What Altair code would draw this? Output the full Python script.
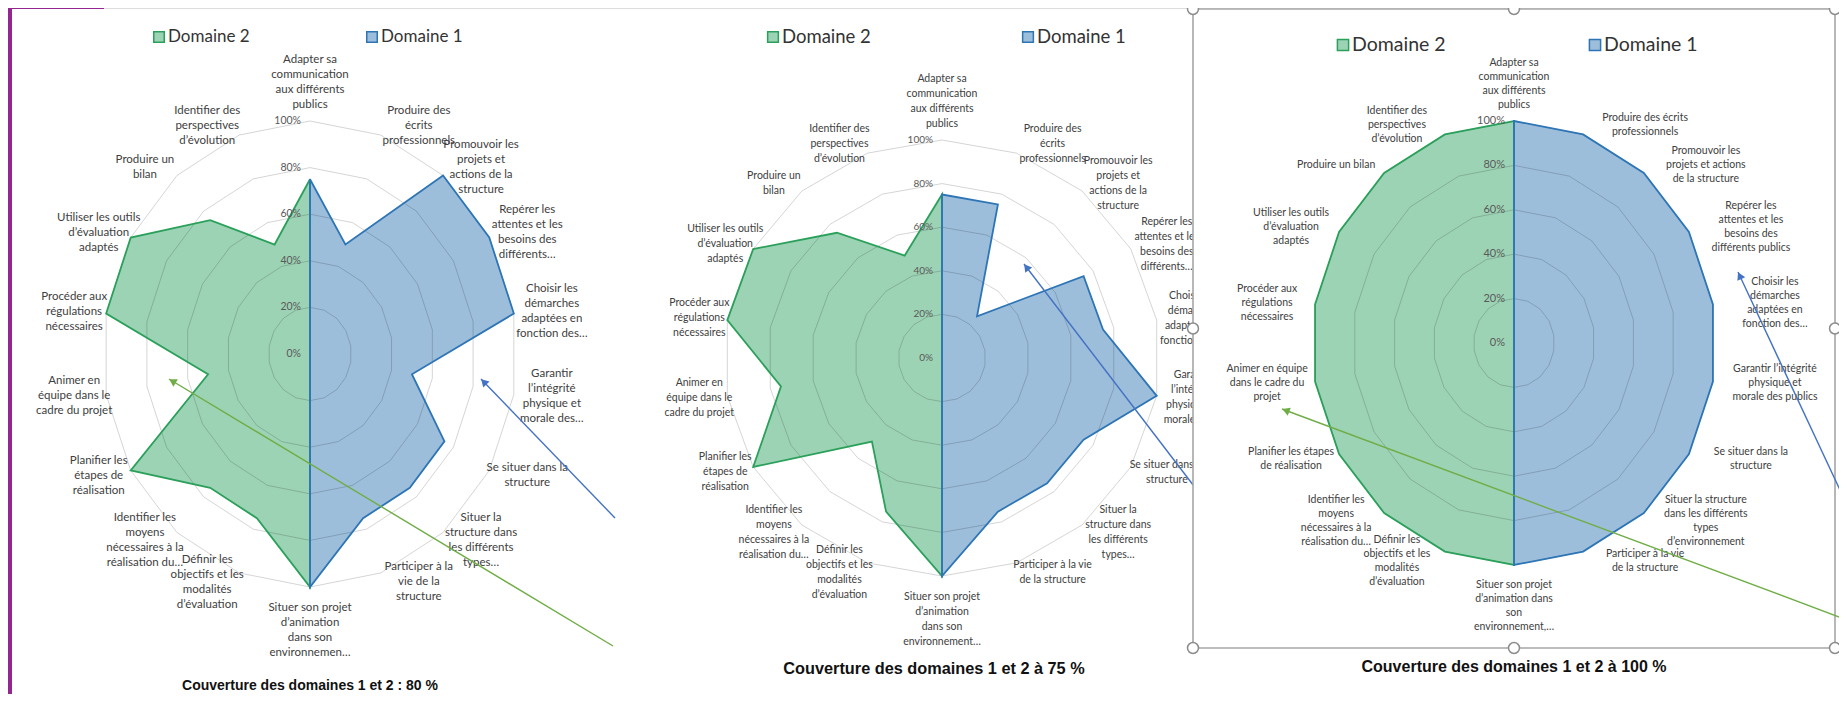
import math
import altair as alt
import pandas as pd

# ------------------------------------------------------------------ data
TITLES = [
    "Couverture des domaines 1 et 2 : 80 %",
    "Couverture des domaines 1 et 2 à 75 %",
    "Couverture des domaines 1 et 2 à 100 %",
]
SERIES = ["Domaine 2", "Domaine 1"]
RING_TICKS = [0, 20, 40, 60, 80, 100]
TICK_TEXT = ["0%", "20%", "40%", "60%", "80%", "100%"]

LABELS_1 = [
    ["Adapter sa", "communication", "aux différents", "publics"],
    ["Produire des", "écrits", "professionnels"],
    ["Promouvoir les", "projets et", "actions de la", "structure"],
    ["Repérer les", "attentes et les", "besoins des", "différents…"],
    ["Choisir les", "démarches", "adaptées en", "fonction des…"],
    ["Garantir", "l’intégrité", "physique et", "morale des…"],
    ["Se situer dans la", "structure"],
    ["Situer la", "structure dans", "les différents", "types…"],
    ["Participer à la", "vie de la", "structure"],
    ["Situer son projet", "d’animation", "dans son", "environnemen…"],
    ["Définir les", "objectifs et les", "modalités", "d’évaluation"],
    ["Identifier les", "moyens", "nécessaires à la", "réalisation du…"],
    ["Planifier les", "étapes de", "réalisation"],
    ["Animer en", "équipe dans le", "cadre du projet"],
    ["Procéder aux", "régulations", "nécessaires"],
    ["Utiliser les outils", "d’évaluation", "adaptés"],
    ["Produire un", "bilan"],
    ["Identifier des", "perspectives", "d’évolution"],
]
LABELS_2 = [
    ["Adapter sa", "communication", "aux différents", "publics"],
    ["Produire des", "écrits", "professionnels"],
    ["Promouvoir les", "projets et", "actions de la", "structure"],
    ["Repérer les", "attentes et les", "besoins des", "différents…"],
    ["Choisir les", "démarches", "adaptées en", "fonction des…"],
    ["Garantir", "l’intégrité", "physique et", "morale des…"],
    ["Se situer dans la", "structure"],
    ["Situer la", "structure dans", "les différents", "types…"],
    ["Participer à la vie", "de la structure"],
    ["Situer son projet", "d’animation", "dans son", "environnement…"],
    ["Définir les", "objectifs et les", "modalités", "d’évaluation"],
    ["Identifier les", "moyens", "nécessaires à la", "réalisation du…"],
    ["Planifier les", "étapes de", "réalisation"],
    ["Animer en", "équipe dans le", "cadre du projet"],
    ["Procéder aux", "régulations", "nécessaires"],
    ["Utiliser les outils", "d’évaluation", "adaptés"],
    ["Produire un", "bilan"],
    ["Identifier des", "perspectives", "d’évolution"],
]
LABELS_3 = [
    ["Adapter sa", "communication", "aux différents", "publics"],
    ["Produire des écrits", "professionnels"],
    ["Promouvoir les", "projets et actions", "de la structure"],
    ["Repérer les", "attentes et les", "besoins des", "différents publics"],
    ["Choisir les", "démarches", "adaptées en", "fonction des…"],
    ["Garantir l’intégrité", "physique et", "morale des publics"],
    ["Se situer dans la", "structure"],
    ["Situer la structure", "dans les différents", "types", "d’environnement"],
    ["Participer à la vie", "de la structure"],
    ["Situer son projet", "d’animation dans", "son", "environnement,…"],
    ["Définir les", "objectifs et les", "modalités", "d’évaluation"],
    ["Identifier les", "moyens", "nécessaires à la", "réalisation du…"],
    ["Planifier les étapes", "de réalisation"],
    ["Animer en équipe", "dans le cadre du", "projet"],
    ["Procéder aux", "régulations", "nécessaires"],
    ["Utiliser les outils", "d’évaluation", "adaptés"],
    ["Produire un bilan"],
    ["Identifier des", "perspectives", "d’évolution"],
]

# Domaine 1 : compétences 0..9 (du haut vers le bas, moitié droite)
# Domaine 2 : compétences 9..17 puis 0 (du bas vers le haut, moitié gauche)
DOMAINE1_C1 = [75, 50, 100, 100, 100, 50, 75, 75, 75, 100]
DOMAINE2_C1 = [100, 75, 75, 100, 50, 100, 100, 75, 50, 75]
DOMAINE1_C2 = [75, 75, 25, 75, 75, 100, 75, 75, 75, 100]
DOMAINE2_C2 = [100, 75, 50, 100, 75, 100, 100, 75, 50, 75]
DOMAINE1_C3 = [100, 100, 100, 100, 100, 100, 100, 100, 100, 100]
DOMAINE2_C3 = [100, 100, 100, 100, 100, 100, 100, 100, 100, 100]

# ------------------------------------------------------------------ style / layout
GREEN_LINE, GREEN_FILL = "#2aa05a", "#9dd3b5"
BLUE_LINE, BLUE_FILL = "#2e75b6", "#9dbedb"
ARROW_BLUE, ARROW_GREEN = "#4472c4", "#70ad47"
PURPLE = "#93278f"
FRAME = "#a6a6a6"
TEXT = "#404040"
TICK = "#595959"

LABEL_FONT = "Lato, sans-serif"
ARIAL = "Liberation Sans, Arial, sans-serif"
CALIBRI = "Lato, sans-serif"

STEP = 20  # 18 compétences

PANELS = [
    dict(labels=LABELS_1, d1=DOMAINE1_C1, d2=DOMAINE2_C1, title=TITLES[0],
         cx=310, cy=354, rx=207, ry=233,
         lab_size=11.5, lab_lh=15, dxr=38, dxl=32, tick_size=10.5,
         leg_x=[159, 372], leg_y=37, leg_size=17, leg_sq=110,
         title_x=310, title_y=686, title_size=14, title_font=ARIAL,
         arrows=[(615, 518, 481, 379, ARROW_BLUE), (613, 646, 169, 379, ARROW_GREEN)]),
    dict(labels=LABELS_2, d1=DOMAINE1_C2, d2=DOMAINE2_C2, title=TITLES[1],
         cx=942, cy=358, rx=218, ry=218,
         lab_size=10.5, lab_lh=15, dxr=36, dxl=28, tick_size=10,
         leg_x=[773, 1028], leg_y=37, leg_size=18.5, leg_sq=115,
         title_x=934, title_y=669, title_size=16.3, title_font=ARIAL,
         arrows=[(1200, 494, 1024, 264, ARROW_BLUE)]),
    dict(labels=LABELS_3, d1=DOMAINE1_C3, d2=DOMAINE2_C3, title=TITLES[2],
         cx=1514, cy=343, rx=202, ry=222,
         lab_size=10.5, lab_lh=14, dxr=62, dxl=48, tick_size=11,
         leg_x=[1343, 1595], leg_y=45, leg_size=19.5, leg_sq=125,
         title_x=1514, title_y=667, title_size=16, title_font=ARIAL,
         arrows=[(1840, 490, 1738, 272, ARROW_BLUE), (1842, 618, 1282, 409, ARROW_GREEN)]),
]
FRAME_BOX = (1193, 9, 1835, 648)
PURPLE_BARS = [(0, 0, 12, 702), (0, 0, 104, 9)]

XS = alt.Scale(domain=[8, 1839], nice=False, zero=False)
YS = alt.Scale(domain=[8, 694], nice=False, zero=False, reverse=True)


def X(f):
    return alt.X(f"{f}:Q", scale=XS, axis=None)


def Y(f):
    return alt.Y(f"{f}:Q", scale=YS, axis=None)


def X2(f):
    return alt.X2(f"{f}:Q")


def Y2(f):
    return alt.Y2(f"{f}:Q")


TH = f"datum.idx * {STEP} * PI / 180"
PX = f"datum.cx + datum.value / 100 * datum.rx * sin({TH})"
PY = f"datum.cy - datum.value / 100 * datum.ry * cos({TH})"


def panel_layers(P):
    n = len(P["labels"])
    half = n // 2
    geo = dict(cx=P["cx"], cy=P["cy"], rx=P["rx"], ry=P["ry"])
    layers = []

    # polygons
    poly = []
    for series, vals in (("Domaine 2", P["d2"]), ("Domaine 1", P["d1"])):
        for k in range(n):
            if series == "Domaine 1":
                v = vals[k] if k <= half else 0
            else:
                v = vals[k - half] if k >= half else (vals[half] if k == 0 else 0)
            poly.append(dict(geo, series=series, idx=k, value=v))
    poly = pd.DataFrame(poly)

    def poly_layer(series, **mk):
        return (alt.Chart(poly)
                .transform_filter(alt.datum.series == series)
                .transform_calculate(px=PX, py=PY)
                .mark_line(interpolate="linear-closed", **mk)
                .encode(x=X("px"), y=Y("py"), order=alt.Order("idx:Q")))

    layers.append(poly_layer("Domaine 2", fill=GREEN_FILL, strokeOpacity=0))
    layers.append(poly_layer("Domaine 1", fill=BLUE_FILL, strokeOpacity=0))

    # rings
    rings = pd.DataFrame([dict(geo, ring=t, idx=k, value=t)
                          for t in RING_TICKS[1:] for k in range(n)])
    layers.append(alt.Chart(rings).transform_calculate(px=PX, py=PY)
                  .mark_line(interpolate="linear-closed", stroke="#000000",
                             strokeOpacity=0.17, strokeWidth=1)
                  .encode(x=X("px"), y=Y("py"), order=alt.Order("idx:Q"),
                          detail="ring:N"))

    layers.append(poly_layer("Domaine 2", stroke=GREEN_LINE, strokeWidth=1.8))
    layers.append(poly_layer("Domaine 1", stroke=BLUE_LINE, strokeWidth=1.8))

    # tick labels
    ticks = pd.DataFrame([dict(geo, value=t, text=s) for t, s in zip(RING_TICKS, TICK_TEXT)])
    layers.append(alt.Chart(ticks)
                  .transform_calculate(px="datum.cx", py="datum.cy - datum.value / 100 * datum.ry")
                  .mark_text(align="right", baseline="middle", dx=-9, font=LABEL_FONT,
                             fontSize=P["tick_size"], color=TICK)
                  .encode(x=X("px"), y=Y("py"), text="text:N"))

    # category labels (block centred at the computed point; first line placed above it)
    labs = pd.DataFrame([dict(geo, idx=k, text="\n".join(lines), nlines=len(lines))
                         for k, lines in enumerate(P["labels"])])
    lh = P["lab_lh"]
    lx = (f"datum.cx + datum.rx * sin({TH}) + (abs(sin({TH})) < 0.01 ? 0 : "
          f"(sin({TH}) > 0 ? {P['dxr']} : -{P['dxl']}))")
    ly = (f"datum.cy - datum.ry * cos({TH}) + (abs(sin({TH})) < 0.01 ? "
          f"(cos({TH}) > 0 ? -(datum.nlines * {lh} / 2 + 9) : (datum.nlines * {lh} / 2 + 13)) "
          f": -cos({TH}) * 10) - (datum.nlines - 1) * {lh} / 2")
    layers.append(alt.Chart(labs).transform_calculate(px=lx, py=ly)
                  .mark_text(align="center", baseline="middle", lineBreak="\n",
                             lineHeight=lh, font=LABEL_FONT, fontSize=P["lab_size"], color=TEXT)
                  .encode(x=X("px"), y=Y("py"), text="text:N"))

    # legend
    leg = pd.DataFrame([
        dict(name=SERIES[0], lx=P["leg_x"][0], ly=P["leg_y"], fill=GREEN_FILL, line=GREEN_LINE),
        dict(name=SERIES[1], lx=P["leg_x"][1], ly=P["leg_y"], fill=BLUE_FILL, line=BLUE_LINE),
    ])
    layers.append(alt.Chart(leg).mark_point(shape="square", filled=True, size=P["leg_sq"],
                                            strokeWidth=1.5, opacity=1)
                  .encode(x=X("lx"), y=Y("ly"), fill=alt.Fill("fill:N", scale=None),
                          stroke=alt.Stroke("line:N", scale=None)))
    layers.append(alt.Chart(leg).mark_text(align="left", baseline="middle", dx=9,
                                           font=CALIBRI, fontSize=P["leg_size"], color="#333333")
                  .encode(x=X("lx"), y=Y("ly"), text="name:N"))

    # title
    tdf = pd.DataFrame([dict(t=P["title"], tx=P["title_x"], ty=P["title_y"])])
    layers.append(alt.Chart(tdf).mark_text(align="center", baseline="middle", fontWeight="bold",
                                           font=P["title_font"], fontSize=P["title_size"],
                                           color="#111111")
                  .encode(x=X("tx"), y=Y("ty"), text="t:N"))

    # arrows
    arr = pd.DataFrame([dict(x0=a[0], y0=a[1], x1=a[2], y1=a[3], color=a[4]) for a in P["arrows"]])
    layers.append(alt.Chart(arr).mark_rule(strokeWidth=1.4)
                  .encode(x=X("x0"), y=Y("y0"), x2=X2("x1"), y2=Y2("y1"),
                          color=alt.Color("color:N", scale=None)))
    layers.append(alt.Chart(arr)
                  .transform_calculate(L="sqrt(pow(datum.x1 - datum.x0, 2) + pow(datum.y1 - datum.y0, 2))")
                  .transform_calculate(
                      hx="datum.x1 - 4 * (datum.x1 - datum.x0) / datum.L",
                      hy="datum.y1 - 4 * (datum.y1 - datum.y0) / datum.L",
                      ang="(atan2(datum.x1 - datum.x0, -(datum.y1 - datum.y0)) * 180 / PI + 360) % 360")
                  .mark_point(shape="triangle-up", filled=True, size=75, opacity=1)
                  .encode(x=X("hx"), y=Y("hy"), angle=alt.Angle("ang:Q", scale=None),
                          color=alt.Color("color:N", scale=None)))
    return layers


# purple slide decoration
purple = pd.DataFrame([dict(a=b[0], b=b[1], c=b[2], d=b[3]) for b in PURPLE_BARS])
purple_layer = (alt.Chart(purple).mark_rect(color=PURPLE)
                .encode(x=X("a"), y=Y("b"), x2=X2("c"), y2=Y2("d")))

# selected chart frame (third chart)
fx0, fy0, fx1, fy1 = FRAME_BOX
frame = pd.DataFrame([dict(a=fx0, b=fy0, c=fx1, d=fy1)])
frame_layer = (alt.Chart(frame).mark_rect(fill="white", stroke=FRAME, strokeWidth=1.6)
               .encode(x=X("a"), y=Y("b"), x2=X2("c"), y2=Y2("d")))
hx = [fx0, (fx0 + fx1) / 2, fx1]
hy = [fy0, (fy0 + fy1) / 2, fy1]
handles = pd.DataFrame([dict(hx=a, hy=b) for a in hx for b in hy
                        if not (a == hx[1] and b == hy[1])])
handle_layer = (alt.Chart(handles).mark_point(shape="circle", filled=True, fill="white",
                                              stroke="#8c8c8c", strokeWidth=1.5, size=120, opacity=1)
                .encode(x=X("hx"), y=Y("hy")))

layers = [purple_layer]
layers += panel_layers(PANELS[0])
layers += panel_layers(PANELS[1])
layers += [frame_layer]
layers += panel_layers(PANELS[2])
layers += [handle_layer]

chart = (alt.layer(*layers)
         .properties(width=1831, height=686, padding=0,
                     autosize=alt.AutoSizeParams(type="none"))
         .configure_view(stroke=None)
         .configure(background="white"))

chart.save("out.html", embed_options={"renderer": "svg", "actions": False})
